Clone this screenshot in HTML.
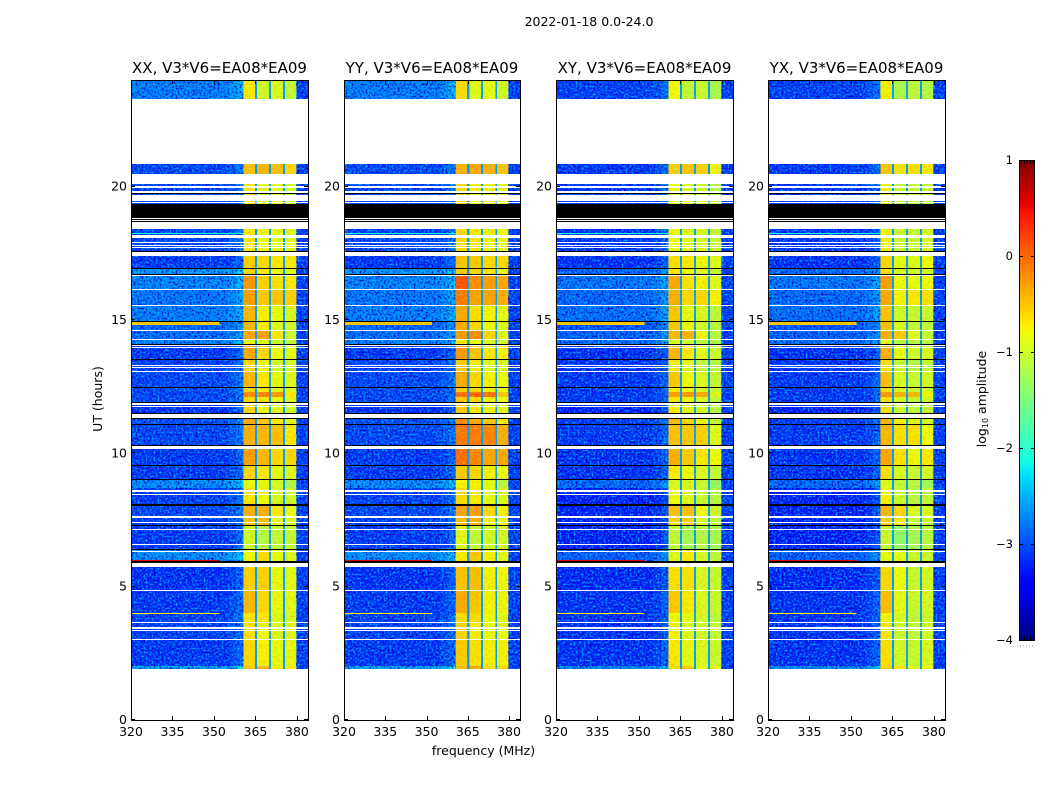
<!DOCTYPE html>
<html lang="en">
<head>
<meta charset="utf-8">
<title>2022-01-18 0.0-24.0</title>
<style>
html,body{margin:0;padding:0;background:#fff;width:1050px;height:800px;overflow:hidden}
svg{display:block}
text{font-family:"DejaVu Sans","Liberation Sans",sans-serif;fill:#000}
</style>
</head>
<body>
<svg id="figure" xmlns="http://www.w3.org/2000/svg" width="1050" height="800" viewBox="0 0 1050 800">
<defs>
<filter id="speck-dark" x="0" y="0" width="1" height="1" color-interpolation-filters="sRGB">
<feTurbulence type="fractalNoise" baseFrequency="0.5" numOctaves="1" seed="3"/>
<feColorMatrix type="matrix" values="0 0 0 0 0  0 0 0 0 0.03  0 0 0 0 0.8  3 0 0 0 -1.25"/>
</filter>
<filter id="speck-light" x="0" y="0" width="1" height="1" color-interpolation-filters="sRGB">
<feTurbulence type="fractalNoise" baseFrequency="0.5" numOctaves="1" seed="11"/>
<feColorMatrix type="matrix" values="0 0 0 0 0  0 0 0 0 0.72  0 0 0 0 1  3 0 0 0 -1.4"/>
</filter>
<filter id="speck-warm" x="0" y="0" width="1" height="1" color-interpolation-filters="sRGB">
<feTurbulence type="fractalNoise" baseFrequency="0.35 0.5" numOctaves="1" seed="7"/>
<feColorMatrix type="matrix" values="0 0 0 0 1  0 0 0 0 0.55  0 0 0 0 0  2.2 0 0 0 -1.0"/>
</filter>
<filter id="speck-cool" x="0" y="0" width="1" height="1" color-interpolation-filters="sRGB">
<feTurbulence type="fractalNoise" baseFrequency="0.35 0.5" numOctaves="1" seed="19"/>
<feColorMatrix type="matrix" values="0 0 0 0 0.7  0 0 0 0 1  0 0 0 0 0.2  2.2 0 0 0 -1.0"/>
</filter>
</defs>
<text x="589" y="26" font-size="12.5" text-anchor="middle">2022-01-18 0.0-24.0</text>
<text x="483.500" y="755" font-size="12.5" text-anchor="middle">frequency (MHz)</text>
<text x="0" y="0" font-size="12.5" text-anchor="middle" transform="translate(102,399) rotate(-90)">UT (hours)</text>
<text x="0" y="0" font-size="12.5" text-anchor="middle" transform="translate(986,399) rotate(-90)">log<tspan font-size="8" dy="2">10</tspan><tspan dy="-2"> amplitude</tspan></text>
<g id="panels"></g>
<g id="colorbar"></g>
</svg>
<script>
/* ---------- chart data ---------- */
const panelTitles = ["XX, V3*V6=EA08*EA09", "YY, V3*V6=EA08*EA09", "XY, V3*V6=EA08*EA09", "YX, V3*V6=EA08*EA09"];
const xTicks = [320, 335, 350, 365, 380];
const yTicks = [0, 5, 10, 15, 20];
const cbarTicks = [-4, -3, -2, -1, 0, 1];

/* frequency edges (MHz): background, band edge, four sub-bands with gaps, upper background */
const freqEdges = [320, 355, 358, 360.6, 364.8, 365.6, 369.9, 370.6, 375, 375.7, 379.8, 384];

/* time bands (UT hours) */
const bandTop    = [24, 20.85, 20.10, 18.41, 17.40, 16.91, 16.65, 16.16, 15.56, 14.96, 14.63, 14.29, 14.03, 13.5, 13.09, 12.49, 12.3, 12.11, 11.93, 11.325, 11.06, 10.31, 9.56, 9.04, 9.0, 8.7, 8.05, 7.57, 7.31, 6.37, 5.74, 4.875, 4.01, 3.675, 3.04, 2.03];
const bandBottom = [23.29, 20.475, 19.35, 17.59, 16.93, 16.69, 16.16, 15.56, 14.96, 14.63, 14.29, 14.03, 13.5, 13.09, 12.49, 12.3, 12.11, 11.93, 11.51, 11.06, 10.29, 9.56, 9.04, 9.0, 8.7, 8.1, 7.57, 7.31, 6.37, 5.96, 4.875, 4.01, 3.675, 3.04, 2.03, 1.91];

/* log10 amplitude of the background per band: co-polar (XX, YY) and cross-polar (XY, YX) */
const coBg    = [-2.7, -3.05, -3.05, -3.05, -3.15, -2.55, -2.65, -2.75, -2.7, -2.85, -2.8, -2.65, -3.15, -3.1, -3.05, -3.05, -3.05, -3.05, -3.2, -3.0, -3.05, -3.15, -3.15, -3.15, -2.6, -3.1, -3.05, -3.1, -3.15, -2.6, -3.2, -3.15, -3.1, -3.1, -3.15, -2.45];
const crossBg = [-3.1, -3.15, -3.15, -3.15, -3.2, -2.85, -2.75, -2.85, -2.8, -2.95, -2.9, -2.8, -3.2, -3.2, -3.15, -3.15, -3.15, -3.15, -3.3, -3.1, -3.15, -3.2, -3.2, -3.2, -2.85, -3.3, -3.3, -3.3, -3.3, -2.9, -3.25, -3.2, -3.2, -3.2, -3.2, -2.6];

/* sub-band log10 amplitude per band in the XX panel */
const subA = [-0.7, -0.45, -0.7, -0.7, -0.55, -0.6, -0.2, -0.25, -0.4, -0.4, -0.3, -0.8, -0.3, -0.6, -0.4, -0.6, -0.15, -0.6, -0.6, -0.3, -0.35, -0.25, -0.6, -0.6, -0.85, -0.7, -0.35, -0.5, -1.0, -0.8, -0.55, -0.4, -0.7, -0.65, -0.6, -0.5];
const subB = [-1.0, -0.4, -0.85, -0.8, -0.6, -0.7, -0.55, -0.5, -0.75, -0.7, -0.25, -0.9, -0.6, -0.8, -0.7, -0.7, -0.1, -0.7, -0.8, -0.5, -0.4, -0.4, -0.7, -0.7, -0.85, -0.8, -0.35, -0.45, -1.2, -0.6, -0.55, -0.6, -0.7, -0.8, -0.75, -0.4];
const subC = [-0.95, -0.45, -0.85, -0.85, -0.7, -0.8, -0.65, -0.5, -0.85, -0.9, -0.7, -1.0, -0.8, -1.0, -0.85, -0.85, -0.2, -0.85, -0.9, -0.7, -0.45, -0.6, -0.85, -0.85, -0.95, -0.95, -0.7, -0.85, -1.1, -0.85, -0.85, -0.85, -0.9, -0.9, -0.85, -0.75];
const subD = [-1.1, -0.6, -1.0, -0.9, -0.7, -0.9, -0.7, -0.55, -0.95, -1.0, -1.0, -1.1, -0.85, -1.0, -0.9, -0.9, -0.7, -0.9, -1.0, -0.9, -0.7, -0.6, -0.9, -0.9, -1.25, -1.0, -0.85, -0.95, -1.1, -0.95, -0.88, -0.88, -0.95, -0.9, -0.85, -0.7];
/* additional brightening of YY over XX per band */
const yyExtra = [0, 0, 0, 0, 0, 0, 0.3, 0.12, 0, 0, 0, 0, 0, 0, 0, 0, 0.1, 0, 0, 0.1, 0.25, 0.2, 0, 0, 0, 0, 0, 0, 0, 0, 0, 0, 0, 0, 0, 0];
const gapLevel = -2.6;
const upperLevel = -3.1;

/* per-polarisation sub-band offsets */
const subOffset = [
  [0, 0, 0, 0],
  [0.08, 0.1, 0.1, 0.1],
  [-0.1, -0.1, -0.1, -0.2],
  [-0.05, -0.25, -0.2, -0.1]
];

/* narrow features crossing the background */
const hotRowTop    = [14.92, 6.0, 4.0, 18.25];
const hotRowBottom = [14.82, 5.96, 3.97, 18.21];
const hotRowLevel  = [-0.5, 0.6, -0.7, -2.1];
const hotRowEnd    = [352, 352, 352, 360.6];

/* flagged rows, white = no data, black = zero amplitude */
const whiteTop    = [23.29, 20.475, 20.025, 19.84, 19.69, 19.41, 18.81, 18.74, 18.675, 18.19, 17.94, 17.81, 17.74, 17.56, 16.69, 16.16, 15.57, 14.625, 14.29, 14.05, 13.99, 13.31, 13.24, 13.09, 11.89, 11.76, 11.50, 10.29, 8.64, 8.58, 8.47, 7.64, 7.41, 7.16, 6.60, 6.35, 5.90, 4.875, 3.675, 3.47, 3.36, 3.04, 1.91];
const whiteBottom = [20.85, 20.10, 19.95, 19.76, 19.46, 19.37, 18.77, 18.705, 18.41, 18.09, 17.90, 17.775, 17.70, 17.40, 16.65, 16.125, 15.54, 14.59, 14.25, 14.01, 13.95, 13.275, 13.20, 13.05, 11.81, 11.72, 11.325, 10.16, 8.60, 8.54, 8.43, 7.575, 7.37, 7.125, 6.56, 6.31, 5.73, 4.84, 3.64, 3.43, 3.32, 3.00, 0];
const blackTop    = [19.76, 19.34, 18.77, 18.705, 17.60, 16.94, 16.725, 14.98, 14.085, 13.52, 12.49, 11.94, 11.53, 11.325, 11.10, 10.31, 9.56, 9.04, 8.09, 7.32, 6.42, 5.96];
const blackBottom = [19.72, 18.81, 18.74, 18.675, 17.56, 16.91, 16.69, 14.95, 14.055, 13.49, 12.45, 11.91, 11.50, 11.29, 11.05, 10.29, 9.52, 9.00, 8.04, 7.29, 6.375, 5.90];

/* ---------- layout ---------- */
const panelLeft = [131, 344, 556, 768];
const panelRight = [308, 520, 733, 945];
const plotTop = 80, plotBottom = 720;
const panelWidth = function (p) { return panelRight[p] - panelLeft[p]; };
const xAt = function (f, p) { return panelLeft[p] + (f - 320) / 64 * panelWidth(p); };
const yAt = function (h) { return plotBottom - h / 24 * (plotBottom - plotTop); };

function jetChannel(t, xs, ys) {
  for (let i = 1; i < xs.length; i++) {
    if (t <= xs[i]) return ys[i - 1] + (t - xs[i - 1]) / (xs[i] - xs[i - 1]) * (ys[i] - ys[i - 1]);
  }
  return ys[ys.length - 1];
}
function jet(level) {
  const t = Math.max(0, Math.min(1, (level + 4) / 5));
  const r = jetChannel(t, [0, .35, .66, .89, 1], [0, 0, 1, 1, .5]);
  const g = jetChannel(t, [0, .125, .375, .64, .91, 1], [0, 0, 1, 1, 0, 0]);
  const b = jetChannel(t, [0, .11, .34, .65, 1], [.5, 1, 1, 0, 0]);
  return "rgb(" + Math.round(r * 255) + "," + Math.round(g * 255) + "," + Math.round(b * 255) + ")";
}
const NS = "http://www.w3.org/2000/svg";
function shape(parent, tag, x, y, w, h, fill) {
  const el = document.createElementNS(NS, tag);
  el.setAttribute("x", x);
  el.setAttribute("y", y);
  el.setAttribute("width", w);
  el.setAttribute("height", h);
  if (fill) el.setAttribute("fill", fill);
  el.setAttribute("shape-rendering", "crispEdges");
  parent.appendChild(el);
  return el;
}
/* horizontal row snapped to whole pixels, at least one pixel tall */
function rowRect(parent, x, w, topHour, bottomHour, fill) {
  const y1 = Math.round(yAt(topHour));
  const y2 = Math.max(y1 + 1, Math.round(yAt(bottomHour)));
  return shape(parent, "rect", x, y1, w, y2 - y1, fill);
}
function line(parent, x1, y1, x2, y2, color) {
  const el = document.createElementNS(NS, "line");
  el.setAttribute("x1", x1);
  el.setAttribute("y1", y1);
  el.setAttribute("x2", x2);
  el.setAttribute("y2", y2);
  el.setAttribute("stroke", color || "#000");
  el.setAttribute("stroke-width", "1");
  el.setAttribute("shape-rendering", "crispEdges");
  parent.appendChild(el);
  return el;
}
function label(parent, x, y, str, anchor, size) {
  const el = document.createElementNS(NS, "text");
  el.setAttribute("x", x);
  el.setAttribute("y", y);
  el.setAttribute("text-anchor", anchor);
  el.setAttribute("font-size", size);
  el.textContent = str;
  parent.appendChild(el);
  return el;
}

function segmentLevel(seg, band, p) {
  const bg = p < 2 ? coBg[band] : crossBg[band];
  const extra = p === 1 ? yyExtra[band] : 0;
  if (seg === 0) return bg;
  if (seg === 1) return bg + 0.12;
  if (seg === 2) return bg + 0.3;
  if (seg === 3) return subA[band] + subOffset[p][0] + extra;
  if (seg === 5) return subB[band] + subOffset[p][1] + extra;
  if (seg === 7) return subC[band] + subOffset[p][2] + extra;
  if (seg === 9) return subD[band] + subOffset[p][3] + extra;
  if (seg === 10) return upperLevel;
  return gapLevel;
}

const panelsRoot = document.getElementById("panels");
panelTitles.forEach(function (title, p) {
  const g = document.createElementNS(NS, "g");
  
  
  panelsRoot.appendChild(g);
  const panelW = panelWidth(p);

  const bg = shape(g, "rect", panelLeft[p], plotTop, panelW, plotBottom - plotTop, "#fff");
  
  

  /* heatmap cells */
  bandTop.forEach(function (top, b) {
    for (let s = 0; s < freqEdges.length - 1; s++) {
      const x1 = xAt(freqEdges[s], p), x2 = xAt(freqEdges[s + 1], p);
      const cell = rowRect(g, x1, x2 - x1, top, bandBottom[b], jet(segmentLevel(s, b, p)));
      
      
    }
  });

  /* channel-level speckle */
  [["speck-dark", "noise-dark"], ["speck-light", "noise-light"]].forEach(function (n) {
    const lower = shape(g, "rect", panelLeft[p], plotTop, xAt(360.6, p) - panelLeft[p], plotBottom - plotTop, "#000");
    lower.setAttribute("filter", "url(#" + n[0] + ")");
    
    
    const upper = shape(g, "rect", xAt(379.8, p), plotTop, xAt(384, p) - xAt(379.8, p), plotBottom - plotTop, "#000");
    upper.setAttribute("filter", "url(#" + n[0] + ")");
    
    
  });
  [["speck-warm", "noise-warm"], ["speck-cool", "noise-cool"]].forEach(function (n) {
    freqEdges.forEach(function (f, s) {
      if (s < 3 || s > 9 || s % 2 === 0) return;
      const sub = shape(g, "rect", xAt(f, p), plotTop, xAt(freqEdges[s + 1], p) - xAt(f, p), plotBottom - plotTop, "#000");
      sub.setAttribute("filter", "url(#" + n[0] + ")");
      sub.setAttribute("opacity", "0.55");
      
      
    });
  });

  /* narrow rows */
  hotRowTop.forEach(function (top, i) {
    const x1 = xAt(320, p);
    const hot = rowRect(g, x1, xAt(hotRowEnd[i], p) - x1, top, hotRowBottom[i], jet(hotRowLevel[i]));
    
    
  });

  /* flagged rows */
  whiteTop.forEach(function (top, i) {
    const row = rowRect(g, panelLeft[p], panelW, top, whiteBottom[i], "#fff");
    
    
  });
  blackTop.forEach(function (top, i) {
    const row = rowRect(g, panelLeft[p], panelW, top, blackBottom[i], "#000");
    
    
  });

  /* frame */
  const frame = shape(g, "rect", panelLeft[p] + 0.5, plotTop + 0.5, panelW, plotBottom - plotTop, "none");
  frame.setAttribute("stroke", "#000");
  frame.setAttribute("stroke-width", "1");
  
  

  /* ticks */
  xTicks.forEach(function (f) {
    const x = Math.round(xAt(f, p)) + 0.5;
    const b = line(g, x, plotBottom, x, plotBottom - 4);
    
    
    const t = line(g, x, plotTop, x, plotTop + 4);
    
    
    const tl = label(g, xAt(f, p), 736, String(f), "middle", 12.5);
    
    
  });
  yTicks.forEach(function (h) {
    const y = Math.round(yAt(h)) - 0.5;
    const l = line(g, panelLeft[p], y, panelLeft[p] + 4, y);
    
    
    const r = line(g, panelRight[p], y, panelRight[p] - 4, y);
    
    
    const tl = label(g, panelLeft[p] - 4, yAt(h) + 4, String(h), "end", 12.5);
    
    
  });

  const ttl = label(g, panelLeft[p] + panelW / 2, 73, title, "middle", 15);
  
  
});

/* colorbar */
const cbarRoot = document.getElementById("colorbar");
const cbarLeft = 1019, cbarWidth = 16, cbarTop = 160, cbarBottom = 640;
const cbarY = function (v) { return cbarBottom - (v + 4) / 5 * (cbarBottom - cbarTop); };
for (let i = 0; i < 120; i++) {
  const lo = -4 + i * 5 / 120;
  const seg = shape(cbarRoot, "rect", cbarLeft, cbarY(lo + 5 / 120), cbarWidth, 4.5, jet(lo + 2.5 / 120));
  
  
}
const cbarFrame = shape(cbarRoot, "rect", cbarLeft + 0.5, cbarTop + 0.5, cbarWidth - 1, cbarBottom - cbarTop, "none");
cbarFrame.setAttribute("stroke", "#000");
cbarFrame.setAttribute("stroke-width", "1");


cbarTicks.forEach(function (v) {
  const y = Math.round(cbarY(v)) + 0.5;
  const l = line(cbarRoot, cbarLeft, y, cbarLeft + 4, y);
  
  
  const r = line(cbarRoot, cbarLeft + cbarWidth, y, cbarLeft + cbarWidth - 4, y);
  
  
  const tl = label(cbarRoot, 1013, cbarY(v) + 4, (v < 0 ? "\u2212" + Math.abs(v) : String(v)), "end", 11.5);
  
  
});
[1021, 1024, 1027, 1030, 1033].forEach(function (x) {
  const a = line(cbarRoot, x + 0.5, cbarTop, x + 0.5, cbarTop + 4);
  
  
  const b = line(cbarRoot, x + 0.5, cbarBottom - 4, x + 0.5, cbarBottom);
  
  
});
const dots = line(cbarRoot, 1017, 646, 1035, 646, "#999");
dots.setAttribute("stroke-dasharray", "1 2");


</script>
</body>
</html>
